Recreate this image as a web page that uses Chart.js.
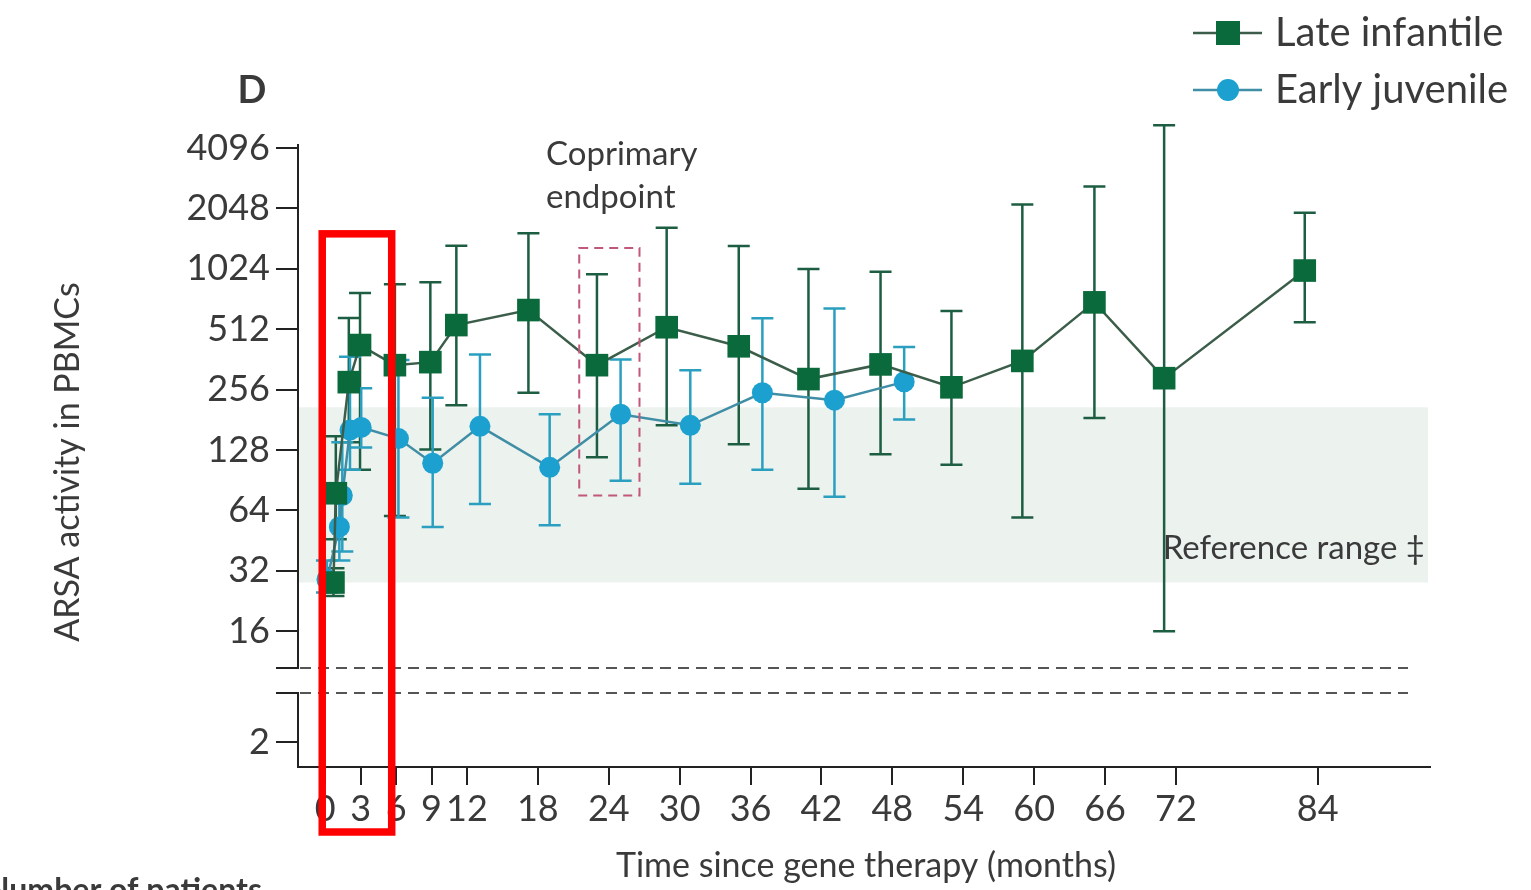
<!DOCTYPE html>
<html>
<head>
<meta charset="utf-8">
<script src="https://cdn.jsdelivr.net/npm/chart.js@4.4.0/dist/chart.umd.min.js"></script>
<style>
  html, body { margin: 0; padding: 0; background: #fff; overflow: hidden; }
</style>
</head>
<body>
<canvas id="arsaChart" width="1531" height="890"></canvas>
<script>
// Late infantile (squares): plotted month, mean and error bar ends
const lateMonths = [0.7, 0.9, 2.0, 2.95, 5.9, 8.9, 11.1, 17.2, 23.0, 28.9, 35.0, 40.9, 47.0, 53.0, 59.0, 65.1, 71.0, 82.9];
const lateMean   = [28, 78, 279, 427, 339, 351, 537, 638, 339, 524, 421, 289, 342, 263, 356, 697, 292, 1004];
const lateLow    = [24, 46, 140, 102, 60, 129, 214, 247, 118, 170, 137, 82, 122, 108, 59, 185, 16, 554];
const lateHigh   = [33, 150, 582, 777, 859, 879, 1333, 1541, 961, 1641, 1330, 1021, 990, 632, 2145, 2630, 5320, 1950];

// Early juvenile (circles)
const earlyMonths = [0.15, 1.2, 1.45, 2.1, 3.05, 6.2, 9.1, 13.1, 19.0, 25.0, 30.9, 37.0, 43.1, 49.0];
const earlyMean   = [29, 53, 76, 161, 166, 146, 110, 168, 105, 193, 170, 247, 227, 280];
const earlyLow    = [25, 36, 40, 102, 132, 59, 53, 69, 54, 90, 87, 102, 75, 182];
const earlyHigh   = [36, 75, 140, 373, 260, 360, 233, 383, 193, 362, 320, 580, 650, 418];

const xTicks = [0, 3, 6, 9, 12, 18, 24, 30, 36, 42, 48, 54, 60, 66, 72, 84];
const yTicksUpper = [16, 32, 64, 128, 256, 512, 1024, 2048, 4096];
const yTicksLower = [2];

// reference range band and coprimary endpoint window
const refRange = [28, 209];
const coprimaryMonths = [21.5, 26.6];
const coprimaryValues = [76, 1300];
// highlighted early window (red frame)
const highlightMonths = [-0.25, 5.63];
const highlightTop = 1530;

const FONT = 'Lato, "Open Sans", sans-serif';
const TEXT = '#3a3a3a';
const AXIS = '#222';

function toPoints(xs, ys) {
    return xs.map((m, i) => ({ x: m, y: ys[i] }));
}

const decor = {
    id: 'decor',
    beforeDatasetsDraw(chart) {
        const { ctx, scales: { x, y } } = chart;
        ctx.save();
        // reference range
        const top = y.getPixelForValue(refRange[1]);
        const bot = y.getPixelForValue(refRange[0]);
        ctx.fillStyle = '#ecf2ee';
        ctx.fillRect(x.left + 1, top, x.right - x.left - 3, bot - top);

        // error bars
        chart.data.datasets.forEach(ds => {
            ctx.strokeStyle = ds.barColor;
            ctx.lineWidth = 2.5;
            ds.data.forEach((p, i) => {
                const px = x.getPixelForValue(p.x);
                const lo = y.getPixelForValue(ds.errLow[i]);
                const hi = y.getPixelForValue(ds.errHigh[i]);
                ctx.beginPath();
                ctx.moveTo(px, lo); ctx.lineTo(px, hi);
                ctx.moveTo(px - 11, lo); ctx.lineTo(px + 11, lo);
                ctx.moveTo(px - 11, hi); ctx.lineTo(px + 11, hi);
                ctx.stroke();
            });
        });
        ctx.restore();
    },
    afterDatasetsDraw(chart) {
        const { ctx, scales: { x, y } } = chart;
        ctx.save();
        // coprimary endpoint box
        const cx0 = x.getPixelForValue(coprimaryMonths[0]);
        const cx1 = x.getPixelForValue(coprimaryMonths[1]);
        const cy0 = y.getPixelForValue(coprimaryValues[1]);
        const cy1 = y.getPixelForValue(coprimaryValues[0]);
        ctx.strokeStyle = '#c2577c';
        ctx.lineWidth = 2;
        ctx.setLineDash([9, 6]);
        ctx.strokeRect(cx0, cy0, cx1 - cx0, cy1 - cy0);
        ctx.setLineDash([]);
        ctx.restore();
    },
    afterDraw(chart) {
        const { ctx, scales: { x, y, yLow } } = chart;
        ctx.save();

        // axis break marks and dashed lines
        [y.bottom, yLow.top].forEach(py => {
            ctx.strokeStyle = AXIS;
            ctx.lineWidth = 2;
            ctx.beginPath();
            ctx.moveTo(x.left - 22, py); ctx.lineTo(x.left, py);
            ctx.stroke();
            ctx.strokeStyle = '#555';
            ctx.setLineDash([11, 7]);
            ctx.beginPath();
            ctx.moveTo(x.left + 2, py); ctx.lineTo(x.right - 22, py);
            ctx.stroke();
            ctx.setLineDash([]);
        });

        ctx.fillStyle = TEXT;
        // panel letter
        ctx.font = 'bold 38px ' + FONT;
        ctx.textAlign = 'center';
        ctx.textBaseline = 'middle';
        ctx.fillText('D', 252, 91);

        // axis titles
        ctx.font = '34px ' + FONT;
        ctx.fillText('Time since gene therapy (months)', 866, 866);
        ctx.save();
        ctx.translate(68, 462);
        ctx.rotate(-Math.PI / 2);
        ctx.fillText('ARSA activity in PBMCs', 0, 0);
        ctx.restore();

        // annotations
        ctx.font = '33px ' + FONT;
        ctx.textAlign = 'left';
        ctx.fillText('Coprimary', 546, 154);
        ctx.fillText('endpoint', 546, 197);
        ctx.textAlign = 'right';
        ctx.fillText('Reference range \u2021', 1425, 548);

        ctx.font = 'bold 32px ' + FONT;
        ctx.textBaseline = 'top';
        ctx.fillText('Number of patients', 262, 875);

        // legend
        const rows = [33, 90];
        chart.data.datasets.forEach((ds, i) => {
            const ly = rows[i];
            ctx.strokeStyle = ds.borderColor;
            ctx.lineWidth = 2.5;
            ctx.beginPath();
            ctx.moveTo(1193, ly); ctx.lineTo(1262, ly);
            ctx.stroke();
            ctx.fillStyle = ds.pointBackgroundColor;
            if (ds.pointStyle === 'rect') {
                ctx.fillRect(1228 - 12, ly - 12, 24, 24);
            } else {
                ctx.beginPath();
                ctx.arc(1228, ly, 11, 0, Math.PI * 2);
                ctx.fill();
            }
            ctx.fillStyle = TEXT;
            ctx.font = '40px ' + FONT;
            ctx.textAlign = 'left';
            ctx.textBaseline = 'middle';
            ctx.fillText(ds.label, 1275, ly);
        });

        // red frame around the first months
        const rx0 = x.getPixelForValue(highlightMonths[0]);
        const rx1 = x.getPixelForValue(highlightMonths[1]);
        const ry0 = y.getPixelForValue(highlightTop);
        const ry1 = x.top + 65;
        ctx.strokeStyle = '#ff0000';
        ctx.lineWidth = 7.5;
        ctx.strokeRect(rx0, ry0, rx1 - rx0, ry1 - ry0);
        ctx.restore();
    }
};

function fixedWidth(scale) { scale.width = 298; }

const tickFont = { family: FONT, size: 36 };

const chart = new Chart(document.getElementById('arsaChart').getContext('2d'), {
    type: 'line',
    data: {
        datasets: [{
            label: 'Late infantile',
            data: toPoints(lateMonths, lateMean),
            errLow: lateLow,
            errHigh: lateHigh,
            barColor: '#1d5e43',
            yAxisID: 'y',
            borderColor: '#3b5d4a',
            borderWidth: 2.5,
            pointStyle: 'rect',
            pointRadius: 16,
            pointBackgroundColor: '#0b6a3b',
            pointBorderWidth: 0,
            tension: 0
        }, {
            label: 'Early juvenile',
            data: toPoints(earlyMonths, earlyMean),
            errLow: earlyLow,
            errHigh: earlyHigh,
            barColor: '#2a9fc0',
            yAxisID: 'y',
            borderColor: '#3f8ea6',
            borderWidth: 2.5,
            pointStyle: 'circle',
            pointRadius: 10.5,
            pointBackgroundColor: '#1ba0cf',
            pointBorderWidth: 0,
            tension: 0
        }]
    },
    options: {
        responsive: false,
        animation: false,
        events: [],
        layout: { padding: { left: 0, top: 145, right: 101, bottom: 63 } },
        plugins: {
            legend: { display: false },
            tooltip: { enabled: false }
        },
        scales: {
            x: {
                type: 'linear',
                min: -2.3,
                max: 93.5,
                afterBuildTicks: s => { s.ticks = xTicks.map(v => ({ value: v })); },
                afterFit: s => { s.height = 60; },
                ticks: { font: tickFont, color: TEXT, autoSkip: false, maxRotation: 0, padding: 3,
                         callback: v => String(v) },
                grid: { drawOnChartArea: false, tickLength: 18, color: AXIS, lineWidth: 2 },
                border: { color: AXIS, width: 2 }
            },
            y: {
                type: 'logarithmic',
                position: 'left',
                stack: 'v',
                stackWeight: 523,
                weight: 3,
                min: 10.5,
                max: 4240,
                afterBuildTicks: s => { s.ticks = yTicksUpper.map(v => ({ value: v })); },
                afterFit: fixedWidth,
                ticks: { font: tickFont, color: TEXT, padding: 6, autoSkip: false,
                         callback: v => String(v) },
                grid: { drawOnChartArea: false, tickLength: 22, color: AXIS, lineWidth: 2 },
                border: { color: AXIS, width: 2 }
            },
            yGap: {
                type: 'linear',
                position: 'left',
                stack: 'v',
                stackWeight: 25,
                weight: 2,
                min: 0,
                max: 1,
                afterFit: fixedWidth,
                ticks: { display: false },
                grid: { display: false },
                border: { display: false }
            },
            yLow: {
                type: 'logarithmic',
                position: 'left',
                stack: 'v',
                stackWeight: 74,
                weight: 1,
                min: 1.5,
                max: 3.51,
                afterBuildTicks: s => { s.ticks = yTicksLower.map(v => ({ value: v })); },
                afterFit: fixedWidth,
                ticks: { font: tickFont, color: TEXT, padding: 6, autoSkip: false,
                         callback: v => String(v) },
                grid: { drawOnChartArea: false, tickLength: 22, color: AXIS, lineWidth: 2 },
                border: { color: AXIS, width: 2 }
            }
        }
    },
    plugins: [decor]
});
</script>
</body>
</html>
